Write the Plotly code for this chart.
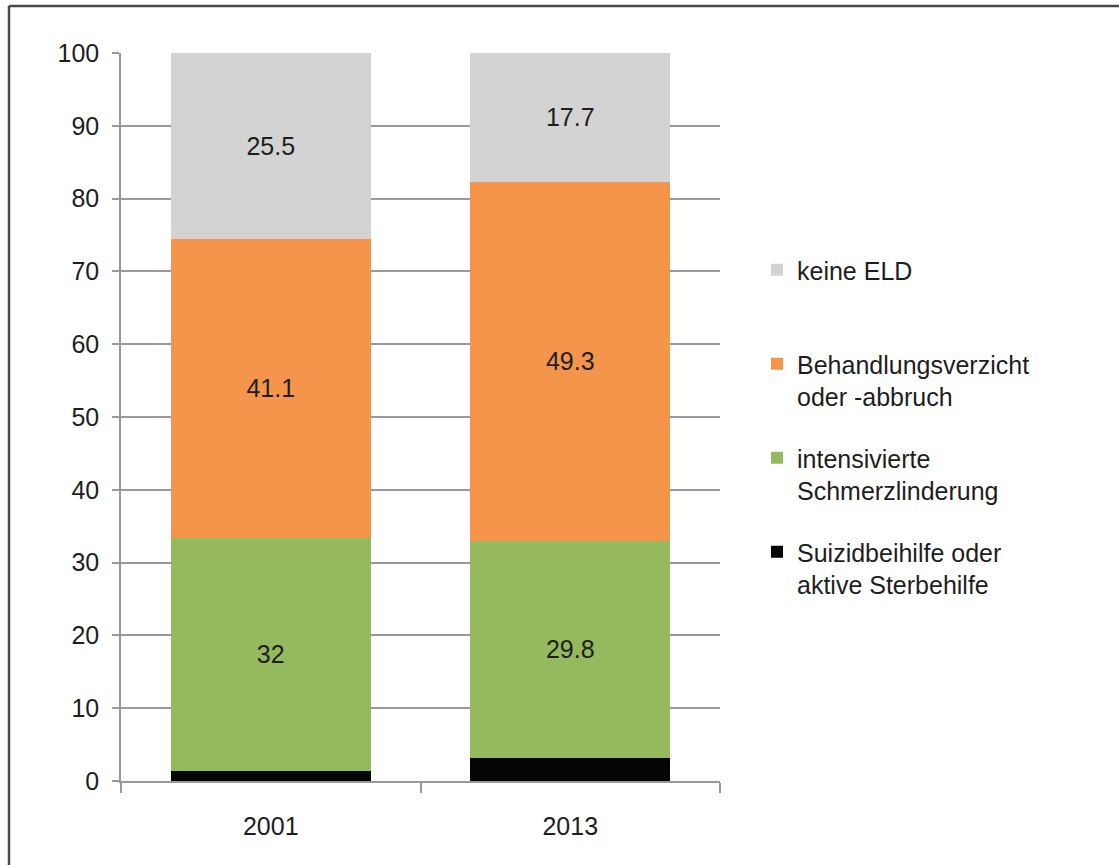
import plotly.graph_objects as go

years = ["2001", "2013"]
suizid = [1.4, 3.2]
schmerz = [32, 29.8]
behandlung = [41.1, 49.3]
keine = [25.5, 17.7]

names = [
    "Suizidbeihilfe oder<br>aktive Sterbehilfe",
    "intensivierte<br>Schmerzlinderung",
    "Behandlungsverzicht<br>oder -abbruch",
    "keine ELD<br>&nbsp;",
]
colors = ["#050505", "#95BA5E", "#F5954C", "#D3D3D3"]
series = [suizid, schmerz, behandlung, keine]
show_labels = [False, True, True, True]
ranks = [4, 3, 2, 1]

FONT = "Liberation Sans, Arial, sans-serif"
TXT = "#1e1e1e"

fig = go.Figure()
for i, (name, vals, col, lab, rk) in enumerate(zip(names, series, colors, show_labels, ranks)):
    fig.add_trace(go.Bar(
        x=years, y=vals, name=name, marker=dict(color=col, line=dict(width=0)),
        text=[str(v) for v in vals] if lab else None,
        textposition="inside" if lab else "none",
        insidetextanchor="middle", textangle=0,
        constraintext="none",
        textfont=dict(family=FONT, size=25, color=TXT),
        legendrank=rk, legendgroup=f"g{i}",
        hoverinfo="skip",
    ))

W, H = 1119, 865
L, R, T, B = 121, 720, 53, 781
pw, ph = R - L, B - T

def px(x):
    return (x - L) / pw

def py(y):
    return (B - y) / ph

fig.update_layout(
    width=W, height=H,
    margin=dict(l=L, r=W - R, t=T, b=H - B, pad=0),
    barmode="stack", bargap=0.333,
    paper_bgcolor="white", plot_bgcolor="white",
    font=dict(family=FONT, size=25, color=TXT),
    showlegend=True,
    legend=dict(
        x=px(757), xanchor="left", y=py(247), yanchor="top",
        traceorder="grouped", tracegroupgap=26,
        valign="top",
        font=dict(family=FONT, size=25, color=TXT),
        bgcolor="rgba(0,0,0,0)",
    ),
    xaxis=dict(
        showgrid=False, showline=True, linecolor="#999999", linewidth=1.5,
        ticks="outside", tickson="boundaries", ticklen=10, tickcolor="#999999",
        tickwidth=1.5, ticklabelstandoff=22,
        tickfont=dict(family=FONT, size=25, color=TXT),
    ),
    yaxis=dict(
        range=[0, 100], tickvals=[0, 10, 20, 30, 40, 50, 60, 70, 80, 90, 100],
        showgrid=True, gridcolor="#999999", gridwidth=1.5,
        showline=True, linecolor="#999999", linewidth=1.5,
        ticks="outside", ticklen=7, tickcolor="#999999", tickwidth=1.5,
        ticklabelstandoff=8, zeroline=False,
        tickfont=dict(family=FONT, size=25, color=TXT),
    ),
    shapes=[
        dict(type="line", xref="paper", yref="paper",
             x0=px(9), x1=px(9), y0=py(6), y1=py(870),
             line=dict(color="#4a4a4a", width=2.5)),
        dict(type="line", xref="paper", yref="paper",
             x0=px(9), x1=px(1130), y0=py(6), y1=py(6),
             line=dict(color="#4a4a4a", width=2.5)),
    ],
)

fig.write_html("out.html",
               config={"displayModeBar": False},
               post_script="document.body.style.margin='0px';document.body.style.overflow='hidden';")
